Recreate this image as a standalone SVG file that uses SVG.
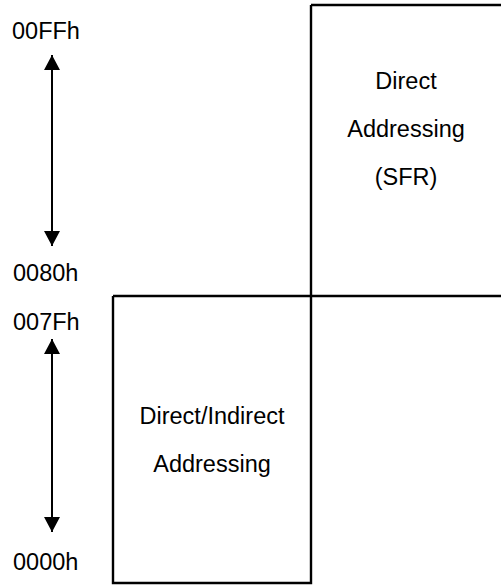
<svg xmlns="http://www.w3.org/2000/svg" width="501" height="586" viewBox="0 0 501 586">
  <style>
    .ln { stroke: #000; stroke-width: 2.4; fill: none; }
    .sh { stroke: #000; stroke-width: 2; fill: none; }
    .t { font-family: "Liberation Sans", Arial, sans-serif; font-size: 23.5px; fill: #000; }
    .c { text-anchor: middle; }
  </style>
  <defs>
    <marker id="ah" markerWidth="16" markerHeight="16" refX="15" refY="8" orient="auto-start-reverse" markerUnits="userSpaceOnUse">
      <path d="M0,0 L15,8 L0,16 Z" fill="#000"/>
    </marker>
  </defs>
  <rect width="501" height="586" fill="#fff"/>
  <g id="sfr-region">
    <path class="ln" d="M311,5 H501 M311,5 V296"/>
    <text class="t c" x="406" y="89">Direct</text>
    <text class="t c" x="406" y="137">Addressing</text>
    <text class="t c" x="406" y="185">(SFR)</text>
  </g>
  <g id="ram-region">
    <path class="ln" d="M113,296 H501 M113,296 V583 H311 V296"/>
    <text class="t c" x="212" y="424">Direct/Indirect</text>
    <text class="t c" x="212" y="472">Addressing</text>
  </g>
  <g id="labels">
    <text class="t" x="12" y="39">00FFh</text>
    <text class="t" x="13" y="281">0080h</text>
    <text class="t" x="13" y="330">007Fh</text>
    <text class="t" x="13" y="570">0000h</text>
  </g>
  <g id="connectors">
    <line class="sh" x1="52" y1="55" x2="52" y2="246" marker-start="url(#ah)" marker-end="url(#ah)"/>
    <line class="sh" x1="52" y1="339" x2="52" y2="532" marker-start="url(#ah)" marker-end="url(#ah)"/>
  </g>
</svg>
